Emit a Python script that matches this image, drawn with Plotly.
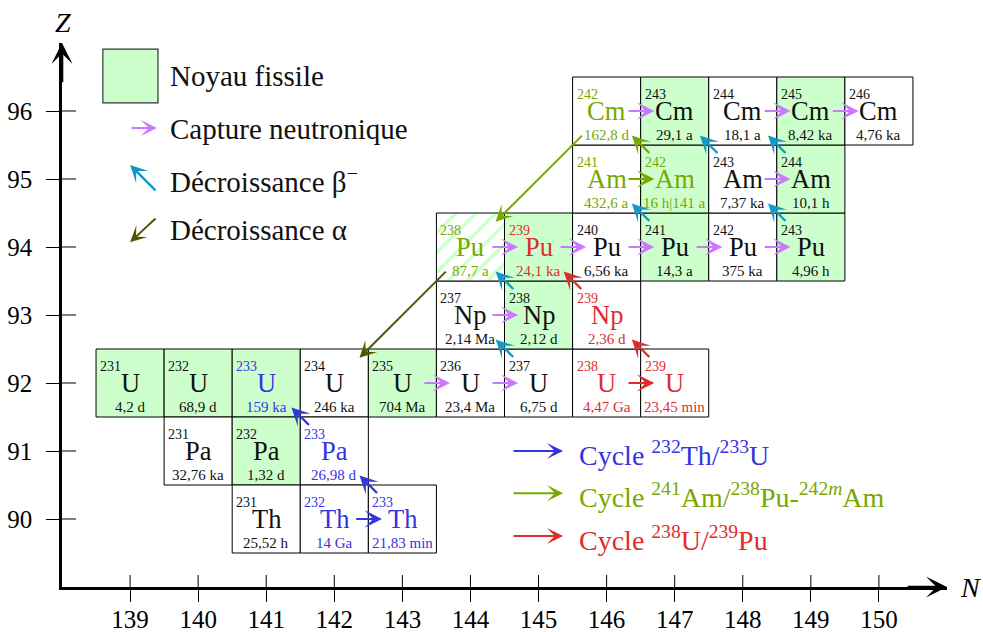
import plotly.graph_objects as go

FONT = "Liberation Serif"

# ---------------- data ----------------
nuc_N = [139, 140, 141, 142, 143, 144, 145, 146, 147,
         140, 141, 142,
         141, 142, 143,
         144, 145, 146,
         144, 145, 146, 147, 148, 149,
         146, 147, 148, 149,
         146, 147, 148, 149, 150]
nuc_Z = [92] * 9 + [91] * 3 + [90] * 3 + [93] * 3 + [94] * 6 + [95] * 4 + [96] * 5
nuc_A = [231, 232, 233, 234, 235, 236, 237, 238, 239,
         231, 232, 233,
         231, 232, 233,
         237, 238, 239,
         238, 239, 240, 241, 242, 243,
         241, 242, 243, 244,
         242, 243, 244, 245, 246]
nuc_sym = ["U"] * 9 + ["Pa"] * 3 + ["Th"] * 3 + ["Np"] * 3 + ["Pu"] * 6 + ["Am"] * 4 + ["Cm"] * 5
nuc_half = ["4,2 d", "68,9 d", "159 ka", "246 ka", "704 Ma", "23,4 Ma", "6,75 d", "4,47 Ga", "23,45 min",
            "32,76 ka", "1,32 d", "26,98 d",
            "25,52 h", "14 Ga", "21,83 min",
            "2,14 Ma", "2,12 d", "2,36 d",
            "87,7 a", "24,1 ka", "6,56 ka", "14,3 a", "375 ka", "4,96 h",
            "432,6 a", "16 h|141 a", "7,37 ka", "10,1 h",
            "162,8 d", "29,1 a", "18,1 a", "8,42 ka", "4,76 ka"]
# 1 = fissile, 0 = not fissile, 2 = hatched (partially)
nuc_fissile = [1, 1, 1, 0, 1, 0, 0, 0, 0,
               0, 1, 0,
               0, 0, 0,
               0, 1, 0,
               2, 1, 0, 1, 0, 1,
               0, 1, 0, 1,
               0, 1, 0, 1, 0]
nuc_cycle = ["k", "k", "b", "k", "k", "k", "k", "r", "r",
             "k", "k", "b",
             "k", "b", "b",
             "k", "k", "r",
             "g", "r", "k", "k", "k", "k",
             "g", "g", "k", "k",
             "g", "k", "k", "k", "k"]

# neutron captures (from N -> N+1 at Z)
cap_N = [143, 144, 144, 144, 145, 146, 147, 148, 148, 146, 148, 149, 142, 146, 146]
cap_Z = [92, 92, 93, 94, 94, 94, 94, 94, 95, 96, 96, 96, 90, 92, 95]
cap_c = ["v"] * 12 + ["b", "r", "g"]

# beta- decays (from (N,Z) -> (N-1,Z+1))
beta_N = [145, 145, 147, 149, 148, 149, 143, 142, 147, 146, 147]
beta_Z = [92, 93, 94, 94, 95, 95, 90, 91, 92, 93, 95]
beta_c = ["t"] * 6 + ["b", "b", "r", "r", "g"]

# alpha decays (from (N,Z) -> (N-2,Z-2))
alpha_N = [144, 146]
alpha_Z = [94, 96]
alpha_c = ["o", "g"]

x_ticks = list(range(139, 151))
y_ticks = list(range(90, 97))

legend_labels = ["Noyau fissile", "Capture neutronique",
                 "Décroissance β<sup>−</sup>", "Décroissance α"]
cycle_labels = ["Cycle <sup>232</sup>Th/<sup>233</sup>U",
                "Cycle <sup>241</sup>Am/<sup>238</sup>Pu-<sup>242<i>m</i></sup>Am",
                "Cycle <sup>238</sup>U/<sup>239</sup>Pu"]
cycle_keys = ["b", "g", "r"]

COL = {"k": "#111111", "b": "#3434e0", "r": "#e02c2c", "g": "#78a800",
       "v": "#cc77ff", "t": "#1199cc", "o": "#555500"}
GREEN = "#ccffcc"

# plot-area geometry (px)
PW, PH = 885, 544

# ---------------- figure ----------------
fig = go.Figure()
shapes = []
ann = []

# cells
for n, z, a, s, h, f, c in zip(nuc_N, nuc_Z, nuc_A, nuc_sym, nuc_half, nuc_fissile, nuc_cycle):
    if f == 2:
        fig.add_trace(go.Scatter(
            x=[n - 0.5, n + 0.5, n + 0.5, n - 0.5, n - 0.5],
            y=[z - 0.5, z - 0.5, z + 0.5, z + 0.5, z - 0.5],
            mode="lines", fill="toself", fillcolor=GREEN,
            fillpattern=dict(shape="/", fgcolor="#ffffff", fgopacity=1, bgcolor=GREEN,
                             size=14, solidity=0.75, fillmode="replace"),
            line=dict(color="black", width=1), hoverinfo="skip", showlegend=False))
    else:
        shapes.append(dict(type="rect", xref="x", yref="y", x0=n - 0.5, x1=n + 0.5,
                           y0=z - 0.5, y1=z + 0.5, layer="below",
                           fillcolor=GREEN if f == 1 else "white",
                           line=dict(color="black", width=1)))
    col = COL[c]
    ann.append(dict(x=n - 0.47, y=z + 0.25, xref="x", yref="y", text=str(a), showarrow=False,
                    xanchor="left", yanchor="middle", font=dict(family=FONT, size=14, color=col)))
    ann.append(dict(x=n, y=z, xref="x", yref="y", text=s, showarrow=False,
                    xanchor="center", yanchor="middle", font=dict(family=FONT, size=26.5, color=col)))
    ann.append(dict(x=n, y=z - 0.35, xref="x", yref="y", text=h, showarrow=False,
                    xanchor="center", yanchor="middle", font=dict(family=FONT, size=15, color=col)))


def arrow(x0, y0, x1, y1, color, width=2.0, size=1.0, head=3):
    return dict(x=x1, y=y1, ax=x0, ay=y0, xref="x", yref="y", axref="x", ayref="y",
                text="", showarrow=True, arrowhead=head, arrowsize=size, arrowwidth=width,
                arrowcolor=color, standoff=0, startstandoff=0, font=dict(size=1))


for n, z, c in zip(cap_N, cap_Z, cap_c):
    ann.append(arrow(n + 0.3, z, n + 0.7, z, COL[c], 2.0, 1.45))

for n, z, c in zip(beta_N, beta_Z, beta_c):
    cx, cy = n - 0.5, z + 0.5
    ann.append(arrow(cx + 0.15, cy - 0.14, cx - 0.13, cy + 0.14, COL[c], 2.4, 1.25))

for n, z, c in zip(alpha_N, alpha_Z, alpha_c):
    ann.append(arrow(n - 0.34, z - 0.34, n - 2 + 0.37, z - 2 + 0.37, COL[c], 2.0, 1.4))

# legend (top-left)
shapes.append(dict(type="rect", xref="x", yref="y", x0=138.60, x1=139.41, y0=96.12, y1=96.91,
                   fillcolor=GREEN, line=dict(color="#333333", width=1.2)))
leg_y = [96.51, 95.735, 94.985, 94.25]
for lab, yy in zip(legend_labels, leg_y):
    ann.append(dict(x=139.557, y=yy, xref="x", yref="y", text=lab, showarrow=False,
                    xanchor="left", yanchor="middle", font=dict(family=FONT, size=29, color="#111111")))
ann.append(arrow(139.0, 95.75, 139.395, 95.75, COL["v"], 2.0, 1.35))
ann.append(arrow(139.395, 94.81, 139.0, 95.206, COL["t"], 2.4, 1.2))
ann.append(arrow(139.395, 94.44, 139.0, 94.07, COL["o"], 2.0, 1.35))

# cycle legend (bottom-right)
cyc_y = [91.0, 90.38, 89.75]
for lab, k, yy in zip(cycle_labels, cycle_keys, cyc_y):
    ann.append(arrow(144.61, yy, 145.36, yy, COL[k], 2.0, 1.35))
    ann.append(dict(x=145.565, y=yy - 0.04, xref="x", yref="y", text=lab, showarrow=False,
                    xanchor="left", yanchor="middle", font=dict(family=FONT, size=28, color=COL[k])))

# axis arrows & labels
ann.append(arrow(150.4, 89, 151.0, 89, "black", 2.6, 1.35))
ann.append(arrow(138, 96.4, 138, 97.0, "black", 2.6, 1.35))
ann.append(dict(x=1 / PW, y=1 + 21 / PH, xref="paper", yref="paper", text="<i>Z</i>", showarrow=False,
                xanchor="center", yanchor="middle", font=dict(family=FONT, size=28, color="black")))
ann.append(dict(x=1 + 23 / PW, y=0, xref="paper", yref="paper", text="<i>N</i>", showarrow=False,
                xanchor="center", yanchor="middle", font=dict(family=FONT, size=28, color="black")))

# inner halves of ticks
for t in x_ticks:
    shapes.append(dict(type="line", xref="x", yref="paper", x0=t, x1=t, y0=0, y1=12 / PH,
                       line=dict(color="black", width=1)))
for t in y_ticks:
    shapes.append(dict(type="line", xref="paper", yref="y", x0=0, x1=14 / PW, y0=t, y1=t,
                       line=dict(color="black", width=1)))

fig.update_layout(
    width=983, height=632, autosize=False,
    margin=dict(l=62, r=36, t=43, b=45, autoexpand=False),
    paper_bgcolor="white", plot_bgcolor="white",
    showlegend=False, shapes=shapes, annotations=ann,
    font=dict(family=FONT, color="black"),
    xaxis=dict(range=[138, 151], showgrid=False, zeroline=False, showline=True,
               linecolor="black", linewidth=2.6, tickmode="array", tickvals=x_ticks,
               ticktext=[str(t) for t in x_ticks], ticks="outside", ticklen=12,
               tickwidth=1, tickcolor="black", tickfont=dict(family=FONT, size=25, color="black"),
               ticklabelstandoff=-4, automargin=False, fixedrange=True),
    yaxis=dict(range=[89, 97], showgrid=False, zeroline=False, showline=True,
               linecolor="black", linewidth=2.6, tickmode="array", tickvals=y_ticks,
               ticktext=[str(t) for t in y_ticks], ticks="outside", ticklen=13,
               tickwidth=1, tickcolor="black", tickfont=dict(family=FONT, size=25, color="black"),
               ticklabelstandoff=9, automargin=False, fixedrange=True),
)

# remove the default page margin so the 983x632 figure fills the window exactly
fig.write_html("out.html", config={"displayModeBar": False},
               post_script="document.body.style.margin='0';document.body.style.overflow='hidden';")
